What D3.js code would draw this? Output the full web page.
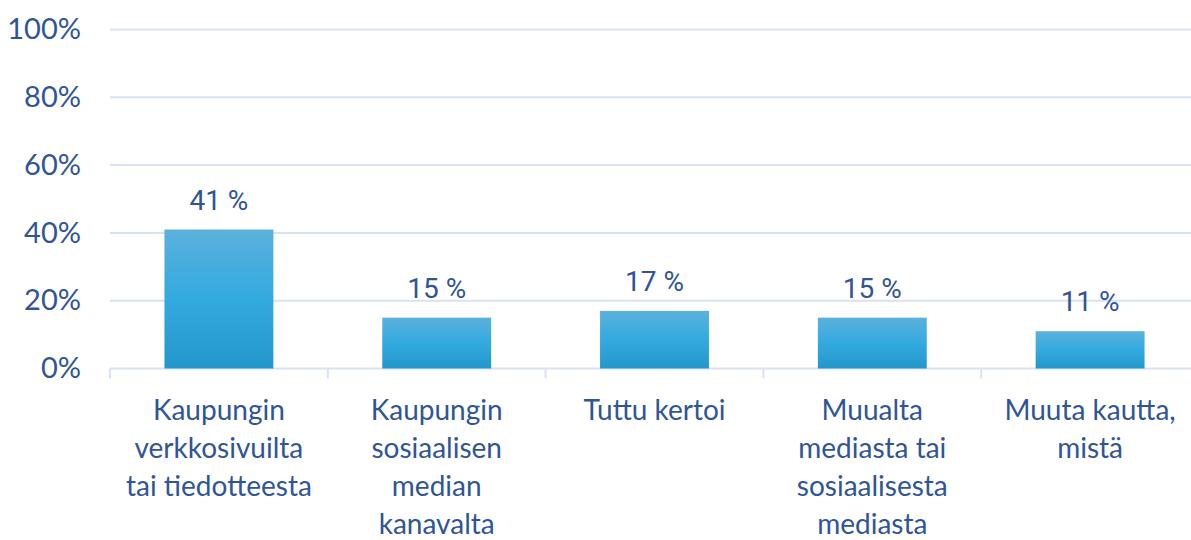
<!DOCTYPE html>
<html>
<head>
<meta charset="utf-8">
<script src="https://cdn.jsdelivr.net/npm/d3@7"></script>
<style>
  body { margin: 0; background: #fff; }
  svg text { fill: #2f5597; }
</style>
</head>
<body>
<div id="chart"></div>
<script>
// Data
const categories = [
  ["Kaupungin", "verkkosivuilta", "tai tiedotteesta"],
  ["Kaupungin", "sosiaalisen", "median", "kanavalta"],
  ["Tuttu kertoi"],
  ["Muualta", "mediasta tai", "sosiaalisesta", "mediasta"],
  ["Muuta kautta,", "mistä"]
];
const values = [41, 15, 17, 15, 11];
const yTicks = [0, 20, 40, 60, 80, 100];

const W = 1191, H = 540;
const margin = { top: 29.5, right: -8, bottom: 171.5, left: 110 };
const width = W - margin.left - margin.right,
    height = H - margin.top - margin.bottom;

const svg = d3.select("#chart")
  .append("svg")
  .attr("width", W)
  .attr("height", H);

const defs = svg.append("defs");
const grad = defs.append("linearGradient")
  .attr("id", "barGrad")
  .attr("x1", 0).attr("y1", 0).attr("x2", 0).attr("y2", 1);
grad.append("stop").attr("offset", "0%").attr("stop-color", "#5bb1dc");
grad.append("stop").attr("offset", "50%").attr("stop-color", "#33aadf");
grad.append("stop").attr("offset", "100%").attr("stop-color", "#2397cc");

const g = svg.append("g")
  .attr("transform", `translate(${margin.left},${margin.top})`);

const x = d3.scaleBand()
  .domain(d3.range(categories.length))
  .range([0, width])
  .paddingInner(0.5)
  .paddingOuter(0.25);

const y = d3.scaleLinear()
  .domain([0, 100])
  .range([height, 0]);

// gridlines
g.append("g")
  .selectAll("line")
  .data(yTicks.filter(d => d > 0))
  .join("line")
  .attr("x1", 0)
  .attr("x2", width)
  .attr("y1", d => y(d))
  .attr("y2", d => y(d))
  .attr("stroke", "#d9e2f3")
  .attr("stroke-width", 2);

// y axis labels
const yAxis = g.append("g")
  .call(d3.axisLeft(y).tickValues(yTicks).tickFormat(d => d + "%").tickSize(0).tickPadding(29));
yAxis.select(".domain").remove();
yAxis.selectAll("text")
  .style("font-family", "Lato, sans-serif")
  .style("font-size", "29px")
  .attr("fill", "#2f5597");

// x axis line and category ticks
const step = x.step();
g.append("line")
  .attr("x1", 0).attr("x2", width)
  .attr("y1", height).attr("y2", height)
  .attr("stroke", "#d9e2f3")
  .attr("stroke-width", 2);

g.append("g")
  .selectAll("line")
  .data(d3.range(categories.length + 1))
  .join("line")
  .attr("x1", i => i * step)
  .attr("x2", i => i * step)
  .attr("y1", height)
  .attr("y2", height + 10)
  .attr("stroke", "#d9e2f3")
  .attr("stroke-width", 2);

// bars
g.append("g")
  .selectAll("rect")
  .data(values)
  .join("rect")
  .attr("x", (d, i) => x(i))
  .attr("y", d => y(d))
  .attr("width", x.bandwidth())
  .attr("height", d => height - y(d))
  .attr("fill", "url(#barGrad)");

// value labels
g.append("g")
  .selectAll("text")
  .data(values)
  .join("text")
  .attr("x", (d, i) => x(i) + x.bandwidth() / 2)
  .attr("y", d => y(d) - 20)
  .attr("text-anchor", "middle")
  .style("font-family", "Roboto, sans-serif")
  .style("font-size", "28px")
  .text(d => d + " %");

// category labels
const cat = g.append("g")
  .selectAll("text")
  .data(categories)
  .join("text")
  .attr("x", (d, i) => x(i) + x.bandwidth() / 2)
  .attr("y", height + 51)
  .attr("text-anchor", "middle")
  .style("font-family", "Lato, sans-serif")
  .style("font-size", "28px");

cat.selectAll("tspan")
  .data(d => d)
  .join("tspan")
  .attr("x", function () { return d3.select(this.parentNode).attr("x"); })
  .attr("dy", (d, i) => i === 0 ? 0 : 38)
  .text(d => d);
</script>
</body>
</html>
